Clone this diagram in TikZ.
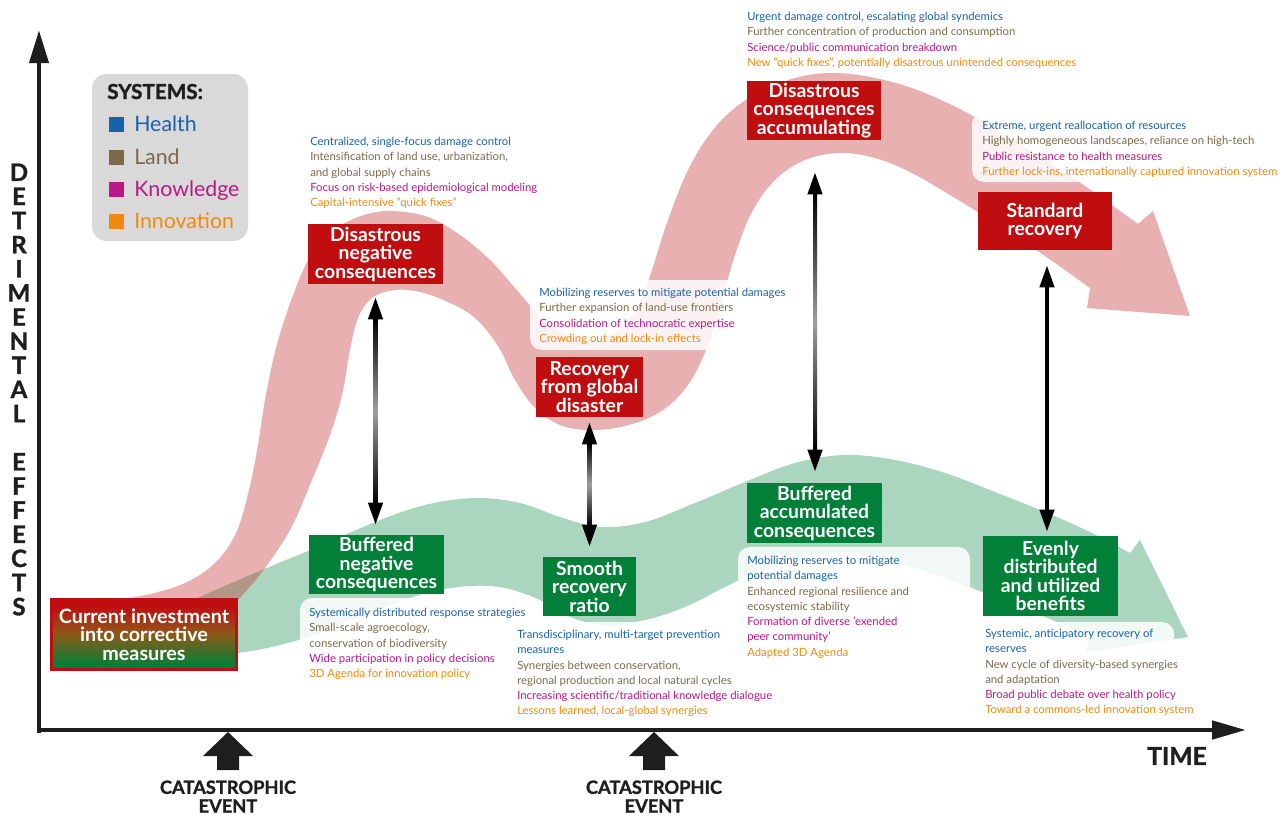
\documentclass[tikz,border=0pt]{standalone}
\usepackage{fontspec}
\setmainfont{Lato}
\newfontfamily\heavyfont{Lato}[BoldFeatures={FakeBold=1.3}]
\usetikzlibrary{arrows.meta,calc}
\definecolor{hblue}{RGB}{24,98,170}
\definecolor{lbrown}{RGB}{122,106,72}
\definecolor{kmag}{RGB}{184,24,136}
\definecolor{iorange}{RGB}{240,138,14}
\definecolor{boxred}{RGB}{192,14,16}
\definecolor{boxgreen}{RGB}{0,128,56}
\definecolor{midbrown}{RGB}{140,90,25}
\definecolor{ribred}{RGB}{232,176,176}
\definecolor{ribgreen}{RGB}{170,214,191}
\definecolor{overlapc}{RGB}{176,152,136}
\definecolor{legendgray}{RGB}{217,217,217}
\definecolor{axisc}{RGB}{30,30,30}
\pgfdeclareverticalshading{investshade}{100bp}{color(0bp)=(boxgreen); color(28bp)=(boxgreen); color(50bp)=(midbrown); color(70bp)=(boxred); color(100bp)=(boxred)}
\newcommand{\txtH}[1]{\textcolor{hblue}{#1}}
\newcommand{\txtL}[1]{\textcolor{lbrown}{#1}}
\newcommand{\txtK}[1]{\textcolor{kmag}{#1}}
\newcommand{\txtI}[1]{\textcolor{iorange}{#1}}
\tikzset{
 txt/.style={anchor=north west, inner sep=0pt, align=left, font=\fontsize{8.5}{11.45}\selectfont},
 bgbox/.style={fill=white, fill opacity=0.85, rounded corners=9pt},
 rbox/.style={fill=boxred, text=white, align=center, inner sep=0pt, font=\bfseries\fontsize{14.5}{13.9}\selectfont},
 gbox/.style={rbox, fill=boxgreen},
 dbl/.style={line width=3pt, draw=black, {Triangle[length=16.5pt,width=10.5pt]}-{Triangle[length=16.5pt,width=10.5pt]}},
 shaftshade/.style={top color=black, bottom color=black, middle color=black!38},
 bigaxis/.style={line width=3.6pt, draw=axisc},
 evtxt/.style={align=center, inner sep=0pt, font=\heavyfont\bfseries\fontsize{13.7}{14}\selectfont, text=axisc},
 legtxt/.style={anchor=base west, inner sep=0pt, font=\fontsize{16}{16}\selectfont},
 legsq/.style={minimum size=11.25pt, inner sep=0pt},
}
\def\redpath{plot[smooth, tension=0.6] coordinates {(117,600) (150,594) (185,583) (215,563) (236,533) (249,490) (258,445) (265,400) (276,348) (292,298) (310,257) (334,230) (364,215) (393,211) (428,217) (460,235) (490,260) (515,288) (540,316) (565,334) (595,340) (622,328) (640,303) (652,270) (668,220) (690,166) (718,124) (752,96) (795,78) (835,73) (880,79) (925,93) (975,117) (1030,150) (1085,186) (1138,224)} -- (1153,211) -- (1190,316) -- (1087,308) -- plot[smooth, tension=0.6] coordinates {(1090,288) (1045,256) (1000,226) (950,195) (910,172) (875,158) (840,153) (805,160) (775,180) (752,212) (735,255) (722,300) (708,345) (688,385) (660,412) (625,426) (590,430) (560,425) (535,408) (515,380) (498,346) (475,318) (448,302) (420,292) (395,290) (372,298) (358,318) (350,350) (342,395) (330,435) (312,480) (290,530) (262,572) (238,600)} -- cycle}
\def\grnpath{plot[smooth, tension=0.6] coordinates {(160,618) (200,597) (262,570) (320,546) (375,522) (425,505) (475,498) (520,503) (560,517) (600,527) (645,522) (695,503) (745,482) (795,463) (845,455) (895,460) (945,473) (995,492) (1045,512) (1090,532) (1130,553)} -- (1140,540) -- (1188,637) -- (1086,652) -- plot[smooth, tension=0.6] coordinates {(1090,636) (1045,617) (995,597) (945,578) (895,562) (850,552) (805,556) (765,568) (725,587) (685,607) (645,620) (605,625) (570,617) (540,600) (505,588) (470,586) (430,592) (390,605) (350,620) (320,633) (280,645) (238,653) (160,662)} -- cycle}
\begin{document}
\begin{tikzpicture}[x=0.75pt,y=-0.75pt]
\useasboundingbox (0,0) rectangle (1285,814);
% ribbons
\fill[ribgreen] \grnpath;
\fill[ribred] \redpath;
\begin{scope}
\clip \grnpath;
\fill[overlapc] \redpath;
\end{scope}
% text backgrounds
\fill[bgbox] (530,280) rectangle (800,350);
\fill[bgbox] (972,112) rectangle (1285,182);
\fill[bgbox] (300,598) rectangle (540,690);
\fill[bgbox] (508,622) rectangle (790,722);
\fill[bgbox] (738,547) rectangle (970,665);
\fill[bgbox] (975,622) rectangle (1174,720);
% text blocks
\node[txt] (t1) at (310,137) {\txtH{Centralized, single-focus damage control}\\\txtL{Intensification of land use, urbanization,}\\\txtL{and global supply chains}\\\txtK{Focus on risk-based epidemiological modeling}\\\txtI{Capital-intensive "quick fixes"}};
\node[txt] (t2) at (539,288) {\txtH{Mobilizing reserves to mitigate potential damages}\\\txtL{Further expansion of land-use frontiers}\\\txtK{Consolidation of technocratic expertise}\\\txtI{Crowding out and lock-in effects}};
\node[txt] (t3) at (747,12) {\txtH{Urgent damage control, escalating global syndemics}\\\txtL{Further concentration of production and consumption}\\\txtK{Science/public communication breakdown}\\\txtI{New "quick fixes", potentially disastrous unintended consequences}};
\node[txt] (t4) at (982,121) {\txtH{Extreme, urgent reallocation of resources}\\\txtL{Highly homogeneous landscapes, reliance on high-tech}\\\txtK{Public resistance to health measures}\\\txtI{Further lock-ins, internationally captured innovation system}};
\node[txt] (t5) at (309,608) {\txtH{Systemically distributed response strategies}\\\txtL{Small-scale agroecology,}\\\txtL{conservation of biodiversity}\\\txtK{Wide participation in policy decisions}\\\txtI{3D Agenda for innovation policy}};
\node[txt] (t6) at (517,630) {\txtH{Transdisciplinary, multi-target prevention}\\\txtH{measures}\\\txtL{Synergies between conservation,}\\\txtL{regional production and local natural cycles}\\\txtK{Increasing scientific/traditional knowledge dialogue}\\\txtI{Lessons learned, local-global synergies}};
\node[txt] (t7) at (747,556) {\txtH{Mobilizing reserves to mitigate}\\\txtH{potential damages}\\\txtL{Enhanced regional resilience and}\\\txtL{ecosystemic stability}\\\txtK{Formation of diverse 'exended}\\\txtK{peer community'}\\\txtI{Adapted 3D Agenda}};
\node[txt] (t8) at (985,629) {\txtH{Systemic, anticipatory recovery of}\\\txtH{reserves}\\\txtL{New cycle of diversity-based synergies}\\\txtL{and adaptation}\\\txtK{Broad public debate over health policy}\\\txtI{Toward a commons-led innovation system}};
% boxes
\node[rbox, minimum width=101.25pt, minimum height=45pt] (B1) at (375.5,254) {Disastrous\\negative\\consequences};
\node[rbox, minimum width=80.25pt, minimum height=45pt] (B2) at (589.5,387) {Recovery\\from global\\disaster};
\node[rbox, minimum width=100.5pt, minimum height=44.25pt] (B3) at (814,110.5) {Disastrous\\consequences\\accumulating};
\node[rbox, minimum width=100.5pt, minimum height=43.5pt] (B4) at (1045,221) {Standard\\recovery};
\node[gbox, minimum width=101.25pt, minimum height=44.25pt] (B5) at (376.5,564.5) {Buffered\\negative\\consequences};
\node[gbox, minimum width=69.75pt, minimum height=44.25pt] (B6) at (589.5,586.5) {Smooth\\recovery\\ratio};
\node[gbox, minimum width=101.25pt, minimum height=45pt] (B7) at (814.5,513) {Buffered\\accumulated\\consequences};
\node[gbox, minimum width=101.25pt, minimum height=60pt] (B8) at (1050.5,576) {Evenly\\distributed\\and utilized\\benefits};
\node[rbox, shading=investshade, draw=boxred, line width=2.25pt, minimum width=139pt, minimum height=53pt, font=\bfseries\fontsize{14.8}{14}\selectfont] (B0) at (144,634.5) {Current investment\\into corrective\\measures};
% double arrows
\draw[dbl] ($(B1.south)+(0,13)$) -- ($(B1.south |- B5.north)+(0,-10)$);
\shade[shaftshade] ($(B1.south)+(-2,34)$) rectangle ($(B1.south |- B5.north)+(2,-31)$);
\draw[dbl] ($(B2.south)+(0,5)$) -- ($(B2.south |- B6.north)+(0,-10)$);
\shade[shaftshade] ($(B2.south)+(-2,26)$) rectangle ($(B2.south |- B6.north)+(2,-31)$);
\draw[dbl] ($(B3.south)+(1,32)$) -- ($(B3.south |- B7.north)+(1,-11)$);
\shade[shaftshade] ($(B3.south)+(-1,53)$) rectangle ($(B3.south |- B7.north)+(3,-32)$);
\draw[dbl] ($(B4.south)+(2,15)$) -- ($(B8.north)+(-3.5,-4)$);
% axes
\coordinate (origin) at (39,730);
\coordinate (ytip) at (39,30);
\coordinate (xtip) at (1246,730);
\draw[bigaxis, -{Triangle[length=24.75pt,width=14pt]}] ($(origin)+(0,3)$) -- (ytip);
\draw[bigaxis, -{Triangle[length=25.5pt,width=13.5pt]}] ($(origin)+(-2,0)$) -- (xtip);
% catastrophic events
\coordinate (ev1) at (228,732);
\coordinate (ev2) at (654,732);
\fill[axisc] (ev1) -- ++(25,24) -- ++(-14,0) -- ++(0,14) -- ++(-22,0) -- ++(0,-14) -- ++(-14,0) -- cycle;
\fill[axisc] (ev2) -- ++(25,24) -- ++(-14,0) -- ++(0,14) -- ++(-22,0) -- ++(0,-14) -- ++(-14,0) -- cycle;
\node[evtxt] (ev1t) at (228,796.5) {CATASTROPHIC\\EVENT};
\node[evtxt] (ev2t) at (654,796.5) {CATASTROPHIC\\EVENT};
\node[inner sep=0pt, font=\heavyfont\bfseries\fontsize{18.5}{18.5}\selectfont, text=axisc] (time) at (1177,756) {TIME};
\node[align=center, inner sep=0pt, text=axisc, font=\heavyfont\bfseries\fontsize{18}{18.1}\selectfont] (ylab) at (19,389.5) {D\\E\\T\\R\\I\\M\\E\\N\\T\\A\\L\\[18.1pt]E\\F\\F\\E\\C\\T\\S};
% legend
\node[fill=legendgray, rounded corners=11pt, minimum width=117pt, minimum height=125.25pt, inner sep=0pt] (legend) at (170,157.5) {};
\node[anchor=base west, inner sep=0pt, font=\heavyfont\bfseries\fontsize{15.5}{15.5}\selectfont, text=axisc] (sys) at (107,99) {SYSTEMS:};
\node[legsq, fill=hblue] (sqH) at (116.5,124) {};
\node[legsq, fill=lbrown] (sqL) at (116.5,157) {};
\node[legsq, fill=kmag] (sqK) at (116.5,189) {};
\node[legsq, fill=iorange] (sqI) at (116.5,221) {};
\node[legtxt, text=hblue] (lgH) at (134,131.5) {Health};
\node[legtxt, text=lbrown] (lgL) at (134,164) {Land};
\node[legtxt, text=kmag] (lgK) at (134,196) {Knowledge};
\node[legtxt, text=iorange] (lgI) at (134,228) {Innovation};
\end{tikzpicture}
\end{document}
